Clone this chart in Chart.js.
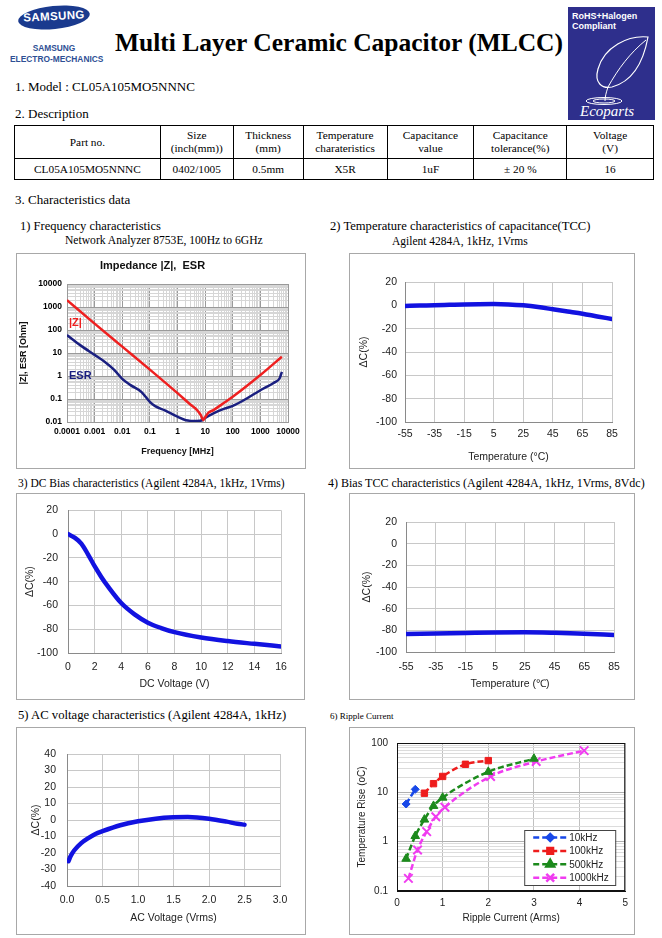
<!DOCTYPE html>
<html>
<head>
<meta charset="utf-8">
<script src="https://cdn.jsdelivr.net/npm/chart.js@4.4.1/dist/chart.umd.min.js"></script>
<style>
  body { margin: 0; width: 662px; height: 938px; background: #fff; position: relative; overflow: hidden;
         font-family: 'Liberation Serif', 'Times New Roman', serif; color: #000; }
  .abs { position: absolute; white-space: nowrap; }
  .box { position: absolute; border: 1px solid #a8a8a8; box-sizing: border-box; }
  .box canvas { display: block; }
  table.desc { position: absolute; left: 14px; top: 125px; width: 640px; border-collapse: collapse;
               font: 11.3px 'Liberation Serif', serif; text-align: center; }
  table.desc td { border: 1px solid #000; padding: 0; line-height: 13px; }
  table.desc tr.h td { height: 32px; }
  table.desc tr.d td { height: 20px; }
</style>
</head>
<body>

<!-- cabecera -->
<div class="abs" style="left:18px;top:6px;width:72px;height:23px;background:#1a3a8e;border-radius:50%;transform:rotate(-6deg);"></div>
<div class="abs" style="left:18px;top:10px;width:72px;text-align:center;color:#fff;font:bold 11.5px 'Liberation Sans',Arial;letter-spacing:0.4px;transform:rotate(-3deg);">SAMSUNG</div>
<div class="abs" style="left:4px;top:42px;width:100px;text-align:center;color:#2e4f94;font:bold 9.5px/11px 'Liberation Sans',Arial;transform:scaleX(0.88);">SAMSUNG<br>ELECTRO-MECHANICS</div>
<div class="abs" style="left:115px;top:28px;font:bold 25.5px 'Liberation Serif',serif;">Multi Layer Ceramic Capacitor (MLCC)</div>

<svg class="abs" style="left:568px;top:7px;" width="87" height="113" viewBox="0 0 87 113">
  <rect width="87" height="113" fill="#2e2f8c"/>
  <text x="4" y="12" fill="#fff" font-family="Liberation Sans, Arial" font-size="9" font-weight="bold">RoHS+Halogen</text>
  <text x="4" y="22" fill="#fff" font-family="Liberation Sans, Arial" font-size="9" font-weight="bold">Compliant</text>
  <path d="M80 30 C60 28 36 40 30 62 C26 76 34 82 44 80 C66 74 76 52 80 30 Z" fill="none" stroke="#fff" stroke-width="1.2"/>
  <path d="M78 33 C62 46 50 62 40 80 C38 86 37 90 37 94" fill="none" stroke="#fff" stroke-width="1"/>
  <ellipse cx="36" cy="94" rx="18" ry="3.5" fill="none" stroke="#fff" stroke-width="1"/>
  <ellipse cx="36" cy="94" rx="11" ry="2" fill="none" stroke="#fff" stroke-width="1"/>
  <text x="12" y="109" fill="#fff" font-family="Liberation Serif, serif" font-size="15" font-style="italic">Ecoparts</text>
</svg>

<div class="abs" style="left:15px;top:80px;font-size:13px;line-height:14px;">1. Model : CL05A105MO5NNNC</div>
<div class="abs" style="left:15px;top:107px;font-size:13px;line-height:14px;">2. Description</div>

<table class="desc">
  <colgroup>
    <col style="width:146px"><col style="width:73px"><col style="width:70px"><col style="width:84px">
    <col style="width:87px"><col style="width:93px"><col style="width:87px">
  </colgroup>
  <tr class="h">
    <td>Part no.</td><td>Size<br>(inch(mm))</td><td>Thickness<br>(mm)</td><td>Temperature<br>charateristics</td>
    <td>Capacitance<br>value</td><td>Capacitance<br>tolerance(%)</td><td>Voltage<br>(V)</td>
  </tr>
  <tr class="d">
    <td>CL05A105MO5NNNC</td><td>0402/1005</td><td>0.5mm</td><td>X5R</td><td>1uF</td><td>± 20 %</td><td>16</td>
  </tr>
</table>

<div class="abs" style="left:15px;top:193px;font-size:13px;line-height:14px;">3. Characteristics data</div>

<div class="abs" style="left:20px;top:219px;font-size:12.5px;line-height:14px;">1) Frequency characteristics</div>
<div class="abs" style="left:65px;top:235px;font-size:11.6px;line-height:12px;">Network Analyzer 8753E, 100Hz to 6GHz</div>
<div class="abs" style="left:330px;top:219px;font-size:12.6px;line-height:14px;">2) Temperature characteristics of capacitance(TCC)</div>
<div class="abs" style="left:392px;top:235px;font-size:11.5px;line-height:12px;">Agilent 4284A, 1kHz, 1Vrms</div>
<div class="abs" style="left:18px;top:477px;font-size:11.5px;line-height:13px;">3) DC Bias characteristics (Agilent 4284A, 1kHz, 1Vrms)</div>
<div class="abs" style="left:328px;top:477px;font-size:12px;line-height:13px;">4) Bias TCC characteristics (Agilent 4284A, 1kHz, 1Vrms, 8Vdc)</div>
<div class="abs" style="left:18px;top:709px;font-size:12.7px;line-height:13px;">5) AC voltage characteristics (Agilent 4284A, 1kHz)</div>
<div class="abs" style="left:330px;top:711px;font-size:9px;line-height:10px;">6) Ripple Current</div>

<div class="box" style="left:16px;top:253px;width:290px;height:216px;"><canvas id="impChart" width="288" height="214"></canvas></div>
<div class="box" style="left:349px;top:253px;width:286px;height:216px;"><canvas id="tccChart" width="284" height="214"></canvas></div>
<div class="box" style="left:16px;top:493px;width:289px;height:207px;"><canvas id="dcChart" width="287" height="205"></canvas></div>
<div class="box" style="left:349px;top:493px;width:286px;height:207px;"><canvas id="btccChart" width="284" height="205"></canvas></div>
<div class="box" style="left:16px;top:727px;width:290px;height:208px;"><canvas id="acChart" width="288" height="206"></canvas></div>
<div class="box" style="left:349px;top:727px;width:286px;height:208px;"><canvas id="rippleChart" width="284" height="206"></canvas></div>

<script>
// ---------------------------------------------------------------------------
// Datos leídos de la hoja técnica
// ---------------------------------------------------------------------------

// 1) Impedancia |Z| y ESR frente a frecuencia (MHz)
const zFreq   = [0.0001, 0.001, 0.01, 0.1, 1, 3, 5, 7, 8.5, 10, 13, 20, 50, 100, 1000, 6000];
const zValues = [2000, 190, 19, 1.9, 0.18, 0.056, 0.034, 0.02, 0.012, 0.016, 0.025, 0.033, 0.07, 0.125, 1.1, 6.9];
const esrFreq   = [0.0001, 0.0003, 0.001, 0.0023, 0.005, 0.01, 0.02, 0.05, 0.1, 0.15, 0.35, 1, 2, 5, 8, 10, 20, 50, 100, 300, 1000, 3000, 5000, 6000];
const esrValues = [60, 22, 8.3, 4.2, 1.9, 0.75, 0.4, 0.2, 0.075, 0.05, 0.032, 0.017, 0.012, 0.011, 0.012, 0.015, 0.024, 0.038, 0.05, 0.1, 0.24, 0.5, 0.8, 1.5];
const freqDecades = [0.0001, 0.001, 0.01, 0.1, 1, 10, 100, 1000, 10000];
const freqLabels  = ['0.0001', '0.001', '0.01', '0.1', '1', '10', '100', '1000', '10000'];
const ohmDecades  = [0.01, 0.1, 1, 10, 100, 1000, 10000];
const ohmLabels   = ['0.01', '0.1', '1', '10', '100', '1000', '10000'];

// 2) TCC
const tccTemp  = [-55, -45, -35, -25, -15, -5, 5, 15, 25, 35, 45, 55, 65, 75, 85];
const tccDelta = [-0.5, -0.2, 0, 0.4, 0.8, 1, 1.1, 0.8, 0, -1.4, -3.4, -5.3, -7.2, -9.5, -11.7];
const tempTicks = [-55, -35, -15, 5, 25, 45, 65, 85];
const pctTicks  = [-100, -80, -60, -40, -20, 0, 20];

// 3) DC bias
const dcVolt  = [0, 0.5, 1, 1.5, 2, 2.5, 3, 4, 5, 6, 7, 8, 10, 12, 14, 16];
const dcDelta = [0, -3, -8, -17, -27, -36, -44, -58, -67.5, -74.5, -79, -82.5, -87, -90, -92.3, -94.5];
const dcTicks = [0, 2, 4, 6, 8, 10, 12, 14, 16];

// 4) Bias TCC (8Vdc)
const btccTemp  = [-55, -35, -15, 5, 25, 45, 65, 85];
const btccDelta = [-83.5, -83, -82.5, -82, -81.8, -82.3, -83.2, -84.2];

// 5) Tensión AC
const acVolt  = [0.02, 0.05, 0.1, 0.2, 0.3, 0.4, 0.5, 0.75, 1.0, 1.25, 1.5, 1.7, 2.0, 2.25, 2.4, 2.5];
const acDelta = [-25, -22, -18.5, -14, -11, -8.5, -6.8, -3.2, -0.8, 0.8, 1.6, 1.8, 0.8, -1, -2.3, -2.8];
const acTicks = [0, 0.5, 1, 1.5, 2, 2.5, 3];
const acPctTicks = [-40, -30, -20, -10, 0, 10, 20, 30, 40];

// 6) Corriente de rizado
const r10kI   = [0.2, 0.4];
const r10kT   = [5.8, 11.5];
const r100kI  = [0.6, 0.8, 1.0, 1.5, 2.0];
const r100kT  = [9.6, 15, 21, 37, 44];
const r500kI  = [0.2, 0.4, 0.6, 0.8, 1.0, 2.0, 3.0];
const r500kT  = [0.45, 1.3, 2.8, 5.3, 7.8, 26, 48];
const r1000kI = [0.25, 0.45, 0.65, 0.85, 1.05, 2.05, 3.05, 4.1];
const r1000kT = [0.18, 0.68, 1.6, 3.2, 5, 21, 42, 70];
const rippleLabels = ['10kHz', '100kHz', '500kHz', '1000kHz'];
const rippleColors = ['#1848e8', '#ee1c1c', '#1c8a1c', '#f03cf0'];
const riseDecades = [0.1, 1, 10, 100];
const riseLabels  = ['0.1', '1', '10', '100'];
const currentTicks = [0, 1, 2, 3, 4, 5];

// ---------------------------------------------------------------------------
const pts = (xs, ys) => xs.map((x, i) => ({ x: x, y: ys[i] }));
const asTicks = arr => arr.map(v => ({ value: v }));
const isDecade = (decades, v) => decades.some(d => Math.abs(d - v) / d < 1e-6);

function logTicks(decades) {
    const out = [];
    for (let i = 0; i < decades.length - 1; i++) {
        for (let k = 1; k < 10; k++) out.push({ value: decades[i] * k });
    }
    out.push({ value: decades[decades.length - 1] });
    return out;
}
function decadeLabel(decades, labels) {
    return function (value) {
        const i = decades.findIndex(d => Math.abs(d - value) / d < 1e-6);
        return i >= 0 ? labels[i] : '';
    };
}
const fixW = w => function (scale) { scale.width = w; };
const fixH = h => function (scale) { scale.height = h; };

Chart.defaults.font.family = "'Liberation Sans', Arial, sans-serif";
Chart.defaults.color = '#222';
Chart.defaults.animation = false;
Chart.defaults.responsive = false;
Chart.defaults.plugins.legend.display = false;
Chart.defaults.plugins.tooltip.enabled = false;

const GRID = '#c8c8c8';
const CURVE = '#1212e0';

// ==========================================================================
// 1. Impedancia |Z|, ESR
// ==========================================================================
const seriesNames = {
    id: 'seriesNames',
    afterDatasetsDraw(chart) {
        const { ctx, scales } = chart;
        const x = scales.x.getPixelForValue(0.0001) + 2;
        ctx.save();
        ctx.font = "bold 11px 'Liberation Sans', Arial";
        ctx.textBaseline = 'middle';
        ctx.fillStyle = '#ee2020';
        ctx.fillText('|Z|', x, scales.y.getPixelForValue(210));
        ctx.fillStyle = '#1a1f80';
        ctx.fillText('ESR', x, scales.y.getPixelForValue(1));
        ctx.restore();
    }
};

new Chart(document.getElementById('impChart'), {
    type: 'line',
    data: {
        datasets: [
            { data: pts(zFreq, zValues), borderColor: '#ee2020', borderWidth: 2.5, pointRadius: 0, cubicInterpolationMode: 'monotone' },
            { data: pts(esrFreq, esrValues), borderColor: '#1a1f80', borderWidth: 2.5, pointRadius: 0, cubicInterpolationMode: 'monotone' }
        ]
    },
    options: {
        layout: { padding: { top: 0, right: 17, left: 0, bottom: 0 } },
        plugins: {
            title: { display: true, text: 'Impedance |Z|,  ESR', font: { size: 11, weight: 'bold' }, color: '#111',
                     padding: { top: 5, bottom: 11.8 } }
        },
        scales: {
            x: {
                type: 'logarithmic', min: 0.0001, max: 10000,
                afterBuildTicks: s => { s.ticks = logTicks(freqDecades); },
                afterFit: fixH(46),
                ticks: { autoSkip: false, maxRotation: 0, minRotation: 0, padding: 5, color: '#000',
                         font: { size: 8.5, weight: 'bold' }, callback: decadeLabel(freqDecades, freqLabels) },
                grid: { drawTicks: false, color: c => isDecade(freqDecades, c.tick.value) ? '#9a9a9a' : '#d6d6d6' },
                border: { color: '#9a9a9a' },
                title: { display: true, text: 'Frequency [MHz]', color: '#111', font: { size: 9, weight: 'bold' },
                         padding: { top: 0, bottom: 10.6 } }
            },
            y: {
                type: 'logarithmic', min: 0.01, max: 10000,
                afterBuildTicks: s => { s.ticks = logTicks(ohmDecades); },
                afterFit: fixW(50),
                ticks: { autoSkip: false, padding: 5, color: '#000',
                         font: { size: 8.5, weight: 'bold' }, callback: decadeLabel(ohmDecades, ohmLabels) },
                grid: { drawTicks: false, color: c => isDecade(ohmDecades, c.tick.value) ? '#9a9a9a' : '#d6d6d6' },
                border: { color: '#9a9a9a' },
                title: { display: true, text: '|Z|, ESR [Ohm]', color: '#111', font: { size: 9, weight: 'bold' },
                         padding: { top: 1.6, bottom: 0 } }
            }
        }
    },
    plugins: [seriesNames]
});

// ==========================================================================
// 2-5. Curvas de capacitancia (ejes lineales)
// ==========================================================================
function deltaChart(id, xs, ys, cfg) {
    new Chart(document.getElementById(id), {
        type: 'line',
        data: {
            datasets: [{ data: pts(xs, ys), borderColor: CURVE, borderWidth: 4.5, pointRadius: 0,
                         cubicInterpolationMode: 'monotone', borderCapStyle: 'round' }]
        },
        options: {
            layout: { padding: { top: cfg.top, right: cfg.right, left: 0, bottom: 0 } },
            scales: {
                x: {
                    type: 'linear', min: cfg.xTicks[0], max: cfg.xTicks[cfg.xTicks.length - 1],
                    afterBuildTicks: s => { s.ticks = asTicks(cfg.xTicks); },
                    afterFit: fixH(cfg.xH),
                    ticks: { autoSkip: false, maxRotation: 0, padding: cfg.xPad, color: '#222', font: { size: 10.5 },
                             callback: cfg.xFmt || (v => String(v)) },
                    grid: { drawTicks: false, color: GRID },
                    border: { color: '#8a8a8a' },
                    title: { display: true, text: cfg.xTitle, color: '#222', font: { size: 10.5 },
                             padding: { top: 0, bottom: cfg.xTitleB } }
                },
                y: {
                    type: 'linear', min: cfg.yTicks[0], max: cfg.yTicks[cfg.yTicks.length - 1],
                    afterBuildTicks: s => { s.ticks = asTicks(cfg.yTicks); },
                    afterFit: fixW(cfg.yW),
                    ticks: { autoSkip: false, padding: cfg.yPad, color: '#222', font: { size: 10.5 } },
                    grid: { drawTicks: false, color: GRID },
                    border: { color: '#8a8a8a' },
                    title: { display: true, text: 'ΔC(%)', color: '#222', font: { size: 10.5 },
                             padding: { top: cfg.yTitleOff, bottom: 0 } }
                }
            }
        }
    });
}

deltaChart('tccChart', tccTemp, tccDelta, {
    xTicks: tempTicks, yTicks: pctTicks, top: 28, right: 22, yW: 55, xH: 46,
    xPad: 6, yPad: 8, xTitle: 'Temperature (°C)', xTitleB: 4.4, yTitleOff: 7.7
});
deltaChart('dcChart', dcVolt, dcDelta, {
    xTicks: dcTicks, yTicks: pctTicks, top: 14, right: 23, yW: 51, xH: 46,
    xPad: 8, yPad: 10, xTitle: 'DC Voltage (V)', xTitleB: 8.4, yTitleOff: 6.7
});
deltaChart('btccChart', btccTemp, btccDelta, {
    xTicks: tempTicks, yTicks: pctTicks, top: 28, right: 20, yW: 56, xH: 47,
    xPad: 9, yPad: 9, xTitle: 'Temperature (℃)', xTitleB: 8.4, yTitleOff: 10.7
});
deltaChart('acChart', acVolt, acDelta, {
    xTicks: acTicks, yTicks: acPctTicks, top: 26, right: 25, yW: 50, xH: 48,
    xPad: 8, yPad: 11, xTitle: 'AC Voltage (Vrms)', xTitleB: 9.4, yTitleOff: 12.7,
    xFmt: v => v.toFixed(1)
});

// ==========================================================================
// 6. Corriente de rizado (eje Y logarítmico)
// ==========================================================================
const styles = [
    { pointStyle: 'rectRot', radius: 4 },
    { pointStyle: 'rect', radius: 4.5 },
    { pointStyle: 'triangle', radius: 5 },
    { pointStyle: 'crossRot', radius: 6 }
];
const rippleSets = [pts(r10kI, r10kT), pts(r100kI, r100kT), pts(r500kI, r500kT), pts(r1000kI, r1000kT)];

const rippleExtras = {
    id: 'rippleExtras',
    afterDatasetsDraw(chart) {
        const { ctx, chartArea: a } = chart;
        ctx.save();
        ctx.strokeStyle = '#111';
        ctx.lineWidth = 1;
        ctx.strokeRect(a.left + 0.5, a.top + 0.5, a.right - a.left - 1, a.bottom - a.top - 1);

        // leyenda dentro del área de trazado
        const x0 = a.right - 101, y0 = a.bottom - 61;
        ctx.fillStyle = '#fff';
        ctx.fillRect(x0, y0, 91, 55);
        ctx.strokeStyle = '#444';
        ctx.strokeRect(x0 + 0.5, y0 + 0.5, 91, 55);
        ctx.font = "10px 'Liberation Sans', Arial";
        ctx.textBaseline = 'middle';
        rippleLabels.forEach((label, i) => {
            const y = y0 + 7.5 + i * 13.4;
            ctx.strokeStyle = rippleColors[i];
            ctx.fillStyle = rippleColors[i];
            ctx.lineWidth = 2.5;
            ctx.setLineDash([6, 3]);
            ctx.beginPath();
            ctx.moveTo(x0 + 9, y);
            ctx.lineTo(x0 + 43, y);
            ctx.stroke();
            ctx.setLineDash([]);
            if (Chart.helpers && Chart.helpers.drawPoint) {
                Chart.helpers.drawPoint(ctx, { pointStyle: styles[i].pointStyle, radius: styles[i].radius - 0.5,
                                               rotation: 0, borderWidth: i === 3 ? 2 : 1 }, x0 + 26, y);
            }
            ctx.fillStyle = '#222';
            ctx.fillText(label, x0 + 45, y + 0.5);
        });
        ctx.restore();
    }
};

new Chart(document.getElementById('rippleChart'), {
    type: 'line',
    data: {
        datasets: rippleSets.map((d, i) => ({
            label: rippleLabels[i],
            data: d,
            borderColor: rippleColors[i],
            backgroundColor: rippleColors[i],
            pointBackgroundColor: rippleColors[i],
            pointBorderColor: rippleColors[i],
            pointStyle: styles[i].pointStyle,
            pointRadius: styles[i].radius,
            pointBorderWidth: i === 3 ? 2 : 1,
            borderWidth: 2.5,
            borderDash: [6, 3],
            cubicInterpolationMode: 'monotone'
        }))
    },
    options: {
        layout: { padding: { top: 11, right: 4, left: 0, bottom: 0 } },
        scales: {
            x: {
                type: 'linear', min: 0, max: 5,
                afterBuildTicks: s => { s.ticks = asTicks(currentTicks); },
                afterFit: fixH(43),
                ticks: { autoSkip: false, maxRotation: 0, padding: 6, color: '#222', font: { size: 10 } },
                grid: { drawTicks: false, color: '#c0c0c0' },
                border: { color: '#111' },
                title: { display: true, text: 'Ripple Current (Arms)', color: '#222', font: { size: 10 },
                         padding: { top: 0, bottom: 10 } }
            },
            y: {
                type: 'logarithmic', min: 0.1, max: 100,
                afterBuildTicks: s => { s.ticks = logTicks(riseDecades); },
                afterFit: fixW(47),
                ticks: { autoSkip: false, padding: 9, color: '#222', font: { size: 10 },
                         callback: decadeLabel(riseDecades, riseLabels) },
                grid: { drawTicks: false, color: c => isDecade(riseDecades, c.tick.value) ? '#b0b0b0' : '#dcdcdc' },
                border: { color: '#111' },
                title: { display: true, text: 'Temperature Rise (oC)', color: '#222', font: { size: 10 },
                         padding: { top: 6, bottom: 0 } }
            }
        }
    },
    plugins: [rippleExtras]
});
</script>
</body>
</html>
